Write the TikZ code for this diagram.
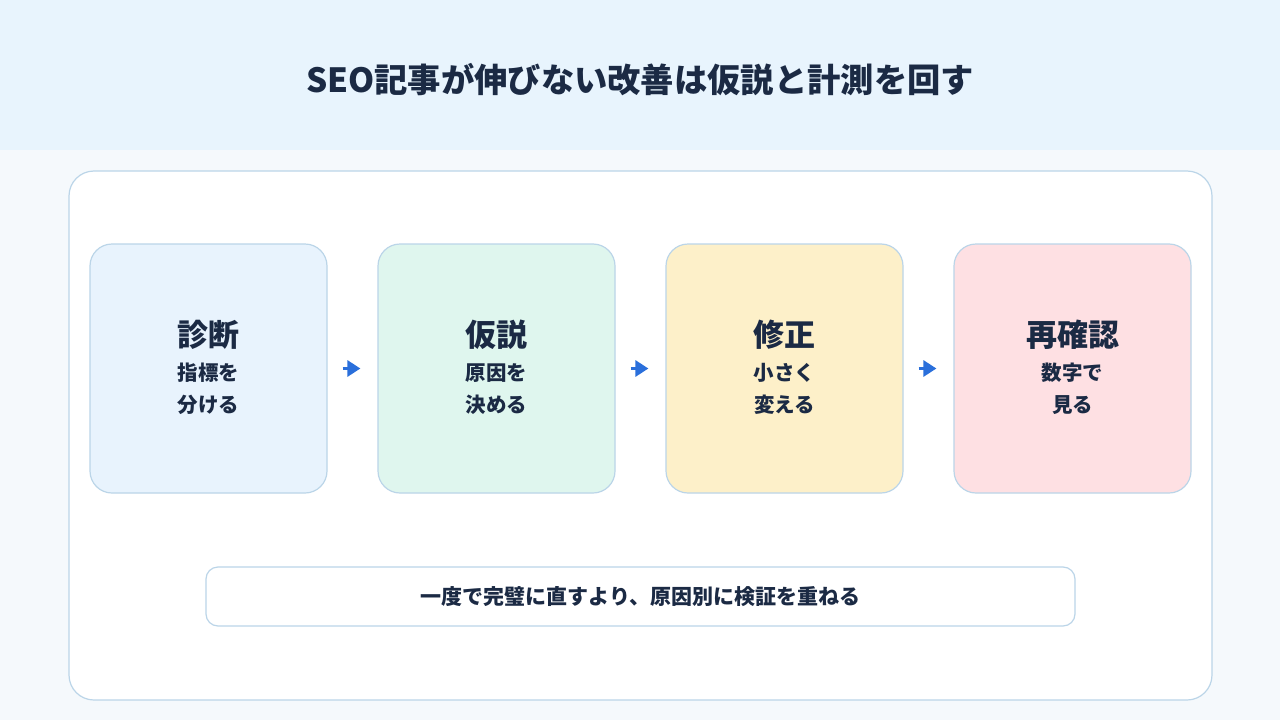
\documentclass[tikz,border=0pt]{standalone}
\usepackage{fontspec}
\setmainfont{Noto Sans CJK JP}
\usetikzlibrary{arrows.meta,calc}
\definecolor{ink}{HTML}{1B2A44}
\definecolor{band}{HTML}{E8F4FD}
\definecolor{bg}{HTML}{F5F9FC}
\definecolor{edge}{HTML}{BBD5E8}
\definecolor{arr}{HTML}{2A6FDB}
\definecolor{fa}{HTML}{E8F3FD}
\definecolor{fb}{HTML}{DFF6EE}
\definecolor{fc}{HTML}{FDF0C9}
\definecolor{fd}{HTML}{FEE0E3}
\tikzset{
 stepbox/.style={draw=edge,line width=1.2pt,rounded corners=22pt,minimum width=237pt,minimum height=249pt,inner sep=0pt},
 flowarrow/.style={arr,line width=3pt,-{Triangle[length=13pt,width=16pt]}},
 hd/.style={text=ink,font=\bfseries\fontsize{31}{34}\selectfont},
 sub/.style={text=ink,font=\bfseries\fontsize{20.5}{32}\selectfont,align=center},
}
\begin{document}
\begin{tikzpicture}[x=1pt,y=-1pt]
\useasboundingbox (0,0) rectangle (1280,720);
\fill[bg] (0,0) rectangle (1280,720);
\fill[band] (0,0) rectangle (1280,150);
\node[text=ink,font=\bfseries\fontsize{33.3}{38}\selectfont] (title) at (640,80) {SEO記事が伸びない改善は仮説と計測を回す};
\draw[edge,fill=white,line width=1.2pt,rounded corners=25pt] (69,171) rectangle (1212,700);
\foreach \n/\x/\f/\h/\s in {a/208.5/fa/診断/{指標を\\分ける},b/496.5/fb/仮説/{原因を\\決める},c/784.5/fc/修正/{小さく\\変える},d/1072.5/fd/再確認/{数字で\\見る}}{
 \node[stepbox,fill=\f] (\n) at (\x,368.5) {};
 \node[hd] (\n h) at (\x,335) {\h};
 \node[sub] (\n s) at (\x,389) {\s};
}
\foreach \p/\q in {a/b,b/c,c/d}{
 \coordinate (\p1) at ($(\p.east)+(15,0)$);
 \coordinate (\p2) at ($(\q.west)+(-17,0)$);
 \draw[flowarrow] (\p1) -- (\p2);
}
\draw[edge,fill=white,line width=1.2pt,rounded corners=12pt] (206,567) rectangle (1075,626);
\node[text=ink,font=\bfseries\fontsize{21}{24}\selectfont] (note) at (640.5,597) {一度で完璧に直すより、原因別に検証を重ねる};
\end{tikzpicture}
\end{document}
